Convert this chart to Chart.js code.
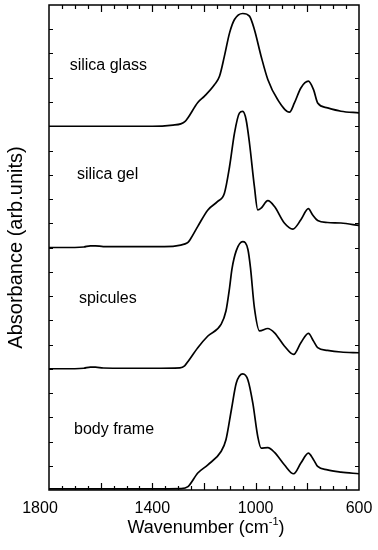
<!DOCTYPE html>
<html>
<head>
<meta charset="utf-8">
<script src="https://cdn.jsdelivr.net/npm/chart.js@4"></script>
<style>
  html, body { margin: 0; padding: 0; background: #fff; }
  #wrap { width: 378px; height: 550px; }
</style>
</head>
<body>
<div id="wrap"><canvas id="myChart"></canvas></div>
<script>
// spectra (wavenumber, absorbance above own baseline)
const glassWn  = [1800, 1600, 1400, 1320, 1290, 1273, 1262, 1224, 1198, 1159, 1140, 1121, 1101, 1082, 1050, 1024, 1005, 979, 953, 915, 869, 850, 825, 796, 776, 760, 722, 670, 600];
const glassAbs = [0, 0, 0, 0.05, 0.1, 0.2, 0.35, 0.98, 1.24, 1.72, 2.06, 2.89, 3.85, 4.40, 4.65, 4.54, 3.99, 2.89, 1.93, 1.10, 0.58, 0.96, 1.58, 1.86, 1.51, 0.96, 0.76, 0.62, 0.55];

const gelWn  = [1800, 1700, 1665, 1640, 1620, 1590, 1500, 1400, 1320, 1290, 1273, 1262, 1254, 1224, 1185, 1147, 1121, 1101, 1082, 1063, 1050, 1037, 1024, 1005, 992, 979, 953, 927, 889, 856, 825, 796, 780, 760, 722, 670, 600];
const gelAbs = [0, 0, 0.02, 0.07, 0.07, 0.04, 0.04, 0.04, 0.05, 0.1, 0.15, 0.21, 0.32, 0.87, 1.55, 1.90, 2.24, 3.34, 4.72, 5.54, 5.61, 5.27, 4.31, 2.52, 1.55, 1.62, 1.93, 1.69, 1.01, 0.76, 1.14, 1.60, 1.35, 1.11, 1.03, 1.01, 0.91];

const spicWn  = [1800, 1700, 1665, 1640, 1620, 1590, 1500, 1400, 1293, 1275, 1262, 1224, 1185, 1134, 1115, 1101, 1092, 1075, 1050, 1030, 1020, 1005, 985, 953, 927, 889, 853, 825, 796, 776, 760, 722, 670, 600];
const spicAbs = [0, 0, 0.02, 0.07, 0.07, 0.03, 0.02, 0.02, 0.04, 0.12, 0.3, 0.87, 1.35, 1.83, 2.38, 3.34, 4.1, 4.87, 5.24, 4.92, 4.16, 2.52, 1.56, 1.66, 1.48, 0.94, 0.59, 1.07, 1.46, 1.14, 0.87, 0.76, 0.69, 0.66];

const bodyWn  = [1800, 1600, 1400, 1290, 1262, 1224, 1185, 1134, 1115, 1094, 1075, 1050, 1030, 1011, 992, 979, 953, 927, 889, 853, 825, 796, 776, 760, 722, 670, 600];
const bodyAbs = [0, 0, 0, 0.01, 0.09, 0.65, 0.99, 1.54, 2.02, 3.26, 4.36, 4.74, 4.49, 3.53, 2.16, 1.68, 1.70, 1.50, 0.99, 0.62, 1.06, 1.47, 1.20, 0.92, 0.78, 0.69, 0.62];

const samples = ['silica glass', 'silica gel', 'spicules', 'body frame'];
const offsets = [15, 10, 5, 0.05];
const xLabels = [1800, 1400, 1000, 600];

const spectra = [[glassWn, glassAbs], [gelWn, gelAbs], [spicWn, spicAbs], [bodyWn, bodyAbs]];

// where the sample names sit (data coords)
const nameSpots = [[1720, 17.5], [1692, 13.0], [1684, 7.9], [1703, 2.5]];

const FONT = '"Liberation Sans", Arial, sans-serif';

const frame = {
  id: 'frame',
  afterDraw(chart) {
    const ctx = chart.ctx;
    const a = chart.chartArea;
    const x = chart.scales.x, y = chart.scales.y;
    ctx.save();
    ctx.strokeStyle = '#000';
    ctx.lineWidth = 1.5;
    ctx.strokeRect(a.left, a.top, a.right - a.left, a.bottom - a.top);

    ctx.lineWidth = 1.2;
    ctx.beginPath();
    for (let v = 1; v < 20; v++) {
      const py = Math.round(y.getPixelForValue(v)) + 0.5;
      ctx.moveTo(a.left, py); ctx.lineTo(a.left + 4, py);
      ctx.moveTo(a.right, py); ctx.lineTo(a.right - 4, py);
    }
    for (let v = 650; v < 1800; v += 50) {
      const px = Math.round(x.getPixelForValue(v)) + 0.5;
      const len = v % 200 === 0 ? 7 : 4;
      ctx.moveTo(px, a.bottom); ctx.lineTo(px, a.bottom - len);
      ctx.moveTo(px, a.top); ctx.lineTo(px, a.top + len);
    }
    ctx.stroke();

    ctx.fillStyle = '#000';
    ctx.font = '16px ' + FONT;
    ctx.textAlign = 'center';
    ctx.textBaseline = 'alphabetic';
    xLabels.forEach((v, i) => {
      const shift = i === 0 ? -9 : 0;
      ctx.fillText(String(v), x.getPixelForValue(v) + shift, 512.5);
    });

    ctx.textAlign = 'left';
    samples.forEach((s, i) => {
      ctx.textBaseline = 'middle';
      ctx.fillText(s, x.getPixelForValue(nameSpots[i][0]), y.getPixelForValue(nameSpots[i][1]));
    });

    // axis titles
    ctx.font = '18px ' + FONT;
    ctx.textAlign = 'center';
    ctx.textBaseline = 'alphabetic';
    const cx = (a.left + a.right) / 2 + 2;
    const t1 = 'Wavenumber (cm';
    const t2 = ')';
    const w1 = ctx.measureText(t1).width;
    ctx.font = '11px ' + FONT;
    const ws = ctx.measureText('-1').width;
    ctx.font = '18px ' + FONT;
    const w2 = ctx.measureText(t2).width;
    let sx = cx - (w1 + ws + w2) / 2;
    ctx.textAlign = 'left';
    ctx.fillText(t1, sx, 532.5);
    ctx.font = '11px ' + FONT;
    ctx.fillText('-1', sx + w1, 525);
    ctx.font = '18px ' + FONT;
    ctx.fillText(t2, sx + w1 + ws, 532.5);

    ctx.translate(16, (a.top + a.bottom) / 2);
    ctx.rotate(-Math.PI / 2);
    ctx.font = '20px ' + FONT;
    ctx.textAlign = 'center';
    ctx.textBaseline = 'middle';
    ctx.fillText('Absorbance (arb.units)', 0, 0);
    ctx.restore();
  }
};

const chart1 = new Chart('myChart', {
  type: 'line',
  data: {
    datasets: spectra.map((s, i) => ({
      label: samples[i],
      data: s[0].map((w, k) => ({ x: w, y: s[1][k] + offsets[i] })),
      borderColor: '#000',
      borderWidth: 1.7,
      pointRadius: 0,
      cubicInterpolationMode: 'monotone',
      fill: false
    }))
  },
  options: {
    responsive: true,
    maintainAspectRatio: false,
    animation: false,
    events: [],
    layout: { padding: { left: 49, right: 19, top: 5, bottom: 60 } },
    plugins: { legend: { display: false }, tooltip: { enabled: false } },
    scales: {
      x: { type: 'linear', reverse: true, min: 600, max: 1800, display: false },
      y: { min: 0, max: 20, display: false }
    }
  },
  plugins: [frame]
});
</script>
</body>
</html>
